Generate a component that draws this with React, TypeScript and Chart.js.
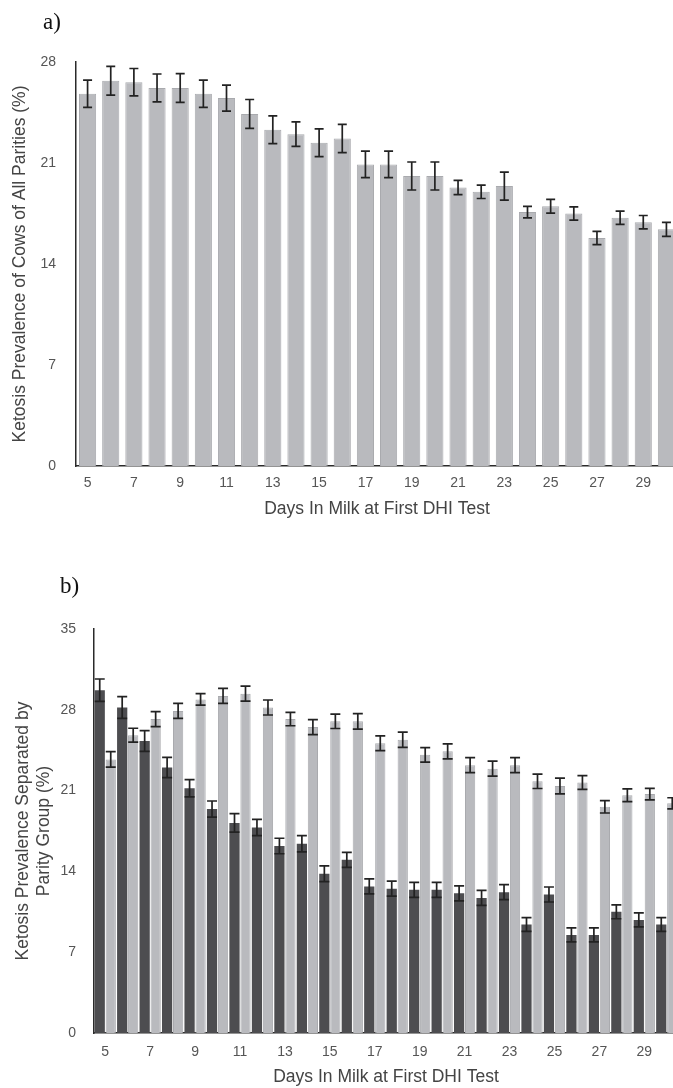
import React, { useEffect, useRef } from "react";
import { Chart, registerables } from "chart.js";

Chart.register(...registerables);

// ---------- data ----------
const days = ["5", "6", "7", "8", "9", "10", "11", "12", "13", "14", "15", "16", "17", "18", "19", "20", "21", "22", "23", "24", "25", "26", "27", "28", "29", "30"];

// panel a) all parities
const allParities = [25.8, 26.7, 26.6, 26.2, 26.2, 25.8, 25.5, 24.4, 23.3, 23.0, 22.4, 22.7, 20.9, 20.9, 20.1, 20.1, 19.3, 19.0, 19.4, 17.6, 18.0, 17.5, 15.8, 17.2, 16.9, 16.4];
const allParitiesErr = [0.95, 1.0, 0.95, 0.97, 1.0, 0.95, 0.9, 1.0, 0.96, 0.85, 0.96, 0.98, 0.92, 0.92, 0.97, 0.97, 0.49, 0.46, 0.97, 0.4, 0.48, 0.46, 0.46, 0.46, 0.46, 0.48];

// panel b) by parity group
const primiparous = [29.7, 28.2, 25.3, 23.0, 21.2, 19.4, 18.2, 17.8, 16.2, 16.4, 13.8, 15.0, 12.7, 12.5, 12.4, 12.4, 12.1, 11.7, 12.2, 9.4, 12.0, 8.5, 8.5, 10.5, 9.8, 9.4];
const primiparousErr = [0.97, 0.94, 0.9, 0.88, 0.75, 0.7, 0.8, 0.7, 0.67, 0.7, 0.68, 0.65, 0.65, 0.65, 0.65, 0.65, 0.65, 0.65, 0.65, 0.6, 0.65, 0.6, 0.6, 0.6, 0.6, 0.6];
const multiparous = [23.7, 25.8, 27.2, 27.9, 28.9, 29.2, 29.4, 28.2, 27.2, 26.5, 27.0, 27.0, 25.1, 25.4, 24.1, 24.4, 23.2, 22.9, 23.2, 21.8, 21.4, 21.7, 19.6, 20.6, 20.7, 19.9];
const multiparousErr = [0.67, 0.6, 0.65, 0.65, 0.5, 0.65, 0.65, 0.65, 0.58, 0.65, 0.62, 0.67, 0.64, 0.66, 0.63, 0.65, 0.65, 0.65, 0.65, 0.62, 0.68, 0.6, 0.54, 0.55, 0.5, 0.48];

const yTicksA = [0, 7, 14, 21, 28];
const yTicksB = [0, 7, 14, 21, 28, 35];

const xTitle = "Days In Milk at First DHI Test";
const yTitleA = "Ketosis Prevalence of Cows of All Parities (%)";
const yTitleB = ["Ketosis Prevalence Separated by", "Parity Group (%)"];

// ---------- styling ----------
const SANS = "'Liberation Sans', Arial, Helvetica, sans-serif";
const LIGHT = "#b9babe";
const LIGHT_BORDER = "#a9aaae";
const DARK = "#4d4d50";
const AXIS = "#2a2a2a";
const TICK = "#555555";
const TITLE = "#444444";

const errorBarPlugin = {
  id: "errorBars",
  afterDatasetsDraw(chart: any, _args: any, opts: any) {
    const ctx = chart.ctx;
    const yScale = chart.scales.y;
    chart.data.datasets.forEach((ds: any, i: number) => {
      const errs = ds.errors;
      if (!errs) return;
      const meta = chart.getDatasetMeta(i);
      ctx.save();
      ctx.strokeStyle = opts.color || "#222";
      ctx.lineWidth = opts.lineWidth || 1.6;
      const hw = (opts.capWidth || 9) / 2;
      meta.data.forEach((bar: any, j: number) => {
        const v = ds.data[j];
        const e = errs[j];
        const x = bar.x;
        const yTop = yScale.getPixelForValue(v + e);
        const yBot = yScale.getPixelForValue(v - e);
        ctx.beginPath();
        ctx.moveTo(x, yTop);
        ctx.lineTo(x, yBot);
        ctx.moveTo(x - hw, yTop);
        ctx.lineTo(x + hw, yTop);
        ctx.moveTo(x - hw, yBot);
        ctx.lineTo(x + hw, yBot);
        ctx.stroke();
      });
      ctx.restore();
    });
  },
};

function makeScales(opts: {
  yMax: number;
  yTicks: number[];
  yTitle: string | string[];
  yWidth: number;
  yTickPad: number;
  yTitlePad: number;
  xHeight: number;
  xTickPad: number;
  xTitlePad: number;
}) {
  return {
    x: {
      grid: { display: false, drawTicks: false, tickLength: 0 },
      border: { display: true, color: AXIS, width: 1.5 },
      ticks: {
        autoSkip: false,
        maxRotation: 0,
        minRotation: 0,
        padding: opts.xTickPad,
        color: TICK,
        font: { family: SANS, size: 14 },
        callback: (_v: any, i: number) => (i % 2 === 0 ? days[i] : ""),
      },
      title: {
        display: true,
        text: xTitle,
        color: TITLE,
        font: { family: SANS, size: 17.5 },
        padding: { top: 0, bottom: opts.xTitlePad },
      },
      afterFit: (s: any) => {
        s.height = opts.xHeight;
      },
    },
    y: {
      min: 0,
      max: opts.yMax,
      afterBuildTicks: (s: any) => {
        s.ticks = opts.yTicks.map((v) => ({ value: v }));
      },
      grid: { display: false, drawTicks: false, tickLength: 0 },
      border: { display: true, color: AXIS, width: 1.5 },
      ticks: {
        padding: opts.yTickPad,
        color: TICK,
        font: { family: SANS, size: 14 },
      },
      title: {
        display: true,
        text: opts.yTitle,
        color: TITLE,
        font: { family: SANS, size: 17.5 },
        padding: { top: opts.yTitlePad, bottom: 0 },
      },
      afterFit: (s: any) => {
        s.width = opts.yWidth;
      },
    },
  };
}

function PanelA() {
  const ref = useRef<HTMLCanvasElement | null>(null);
  useEffect(() => {
    if (!ref.current) return;
    const chart = new Chart(ref.current, {
      type: "bar",
      data: {
        labels: days,
        datasets: [
          {
            label: "All parities",
            data: allParities,
            errors: allParitiesErr,
            backgroundColor: LIGHT,
            borderColor: LIGHT_BORDER,
            borderWidth: 1,
            categoryPercentage: 1,
            barPercentage: 0.74,
          } as any,
        ],
      },
      options: {
        responsive: false,
        animation: false,
        devicePixelRatio: 1,
        layout: { padding: { top: 62, left: 0, right: 0, bottom: 0 } },
        plugins: {
          legend: { display: false },
          tooltip: { enabled: false },
          errorBars: { color: "#222", lineWidth: 1.7, capWidth: 9 },
        } as any,
        scales: makeScales({
          yMax: 28,
          yTicks: yTicksA,
          yTitle: yTitleA,
          yWidth: 76,
          yTickPad: 20,
          yTitlePad: 10,
          xHeight: 60,
          xTickPad: 9,
          xTitlePad: 6,
        }) as any,
      },
      plugins: [errorBarPlugin],
    });
    return () => chart.destroy();
  }, []);
  return (
    <canvas
      ref={ref}
      width={678}
      height={526}
      style={{ position: "absolute", left: 0, top: 0, width: 678, height: 526 }}
    />
  );
}

function PanelB() {
  const ref = useRef<HTMLCanvasElement | null>(null);
  useEffect(() => {
    if (!ref.current) return;
    const chart = new Chart(ref.current, {
      type: "bar",
      data: {
        labels: days,
        datasets: [
          {
            label: "Primiparous",
            data: primiparous,
            errors: primiparousErr,
            backgroundColor: DARK,
            borderColor: "#444447",
            borderWidth: 0,
            categoryPercentage: 0.98,
            barPercentage: 0.93,
          } as any,
          {
            label: "Multiparous",
            data: multiparous,
            errors: multiparousErr,
            backgroundColor: LIGHT,
            borderColor: LIGHT_BORDER,
            borderWidth: 1,
            categoryPercentage: 0.98,
            barPercentage: 0.93,
          } as any,
        ],
      },
      options: {
        responsive: false,
        animation: false,
        devicePixelRatio: 1,
        layout: { padding: { top: 89, left: 0, right: 0, bottom: 0 } },
        plugins: {
          legend: { display: false },
          tooltip: { enabled: false },
          errorBars: { color: "#222", lineWidth: 1.7, capWidth: 10 },
        } as any,
        scales: makeScales({
          yMax: 35,
          yTicks: yTicksB,
          yTitle: yTitleB,
          yWidth: 94,
          yTickPad: 18,
          yTitlePad: 13,
          xHeight: 55,
          xTickPad: 11,
          xTitlePad: 0,
        }) as any,
      },
      plugins: [errorBarPlugin],
    });
    return () => chart.destroy();
  }, []);
  return (
    <canvas
      ref={ref}
      width={678}
      height={548}
      style={{ position: "absolute", left: 0, top: 540, width: 678, height: 548 }}
    />
  );
}

export default function App() {
  const labelStyle: React.CSSProperties = {
    position: "absolute",
    fontFamily: "'Liberation Serif', 'Times New Roman', serif",
    fontSize: 23,
    lineHeight: 1,
    color: "#111",
  };
  return (
    <div
      style={{
        position: "absolute",
        left: 0,
        top: 0,
        width: 673,
        height: 1088,
        overflow: "hidden",
        background: "#fff",
      }}
    >
      <PanelA />
      <PanelB />
      <div style={{ ...labelStyle, left: 43, top: 10 }}>a)</div>
      <div style={{ ...labelStyle, left: 60, top: 574 }}>b)</div>
    </div>
  );
}
